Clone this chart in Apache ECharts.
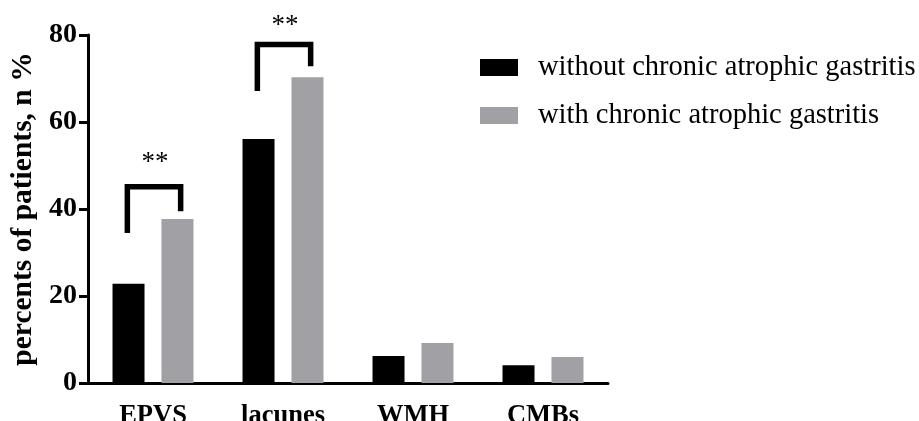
<!DOCTYPE html>
<html><head><meta charset="utf-8">
<script src="https://cdn.jsdelivr.net/npm/echarts@6/dist/echarts.min.js"></script>
<style>html,body{margin:0;padding:0;background:#fff}#c{width:919px;height:421px}</style>
</head><body><div id="c"></div>
<script>
const categories = ['EPVS', 'lacunes', 'WMH', 'CMBs'];
const withoutCAG = [22.8, 56.1, 6.2, 4.1];
const withCAG = [37.7, 70.3, 9.2, 6.0];
const yTicks = [0, 20, 40, 60, 80];
// significance brackets: category index, left leg bottom, bracket top, right leg bottom, label level, label
const bracketCats = [0, 1];
const bracketLeft = [34.5, 67.1];
const bracketTop = [45.1, 77.8];
const bracketRight = [39.5, 72.8];
const labelLevel = [51.8, 83.2];
const bracketLabels = ['**', '**'];

const serif = "Liberation Serif";
const chart = echarts.init(document.getElementById('c'));
const bracketData = bracketCats.map((c, i) => [c, bracketLeft[i], bracketTop[i], bracketRight[i], labelLevel[i]]);
chart.setOption({
  animation: false,
  grid: { left: 88, right: 311, top: 35, bottom: 38, outerBoundsMode: 'none', containLabel: false },
  legend: {
    orient: 'vertical', left: 480, top: 53, padding: 0, itemWidth: 38, itemHeight: 17, itemGap: 19,
    icon: 'rect',
    textStyle: { fontFamily: serif, fontSize: 28.5, color: '#000', padding: [0, 0, 0, 15] },
    data: ['without chronic atrophic gastritis', 'with chronic atrophic gastritis']
  },
  xAxis: {
    type: 'category', data: categories,
    axisLine: { lineStyle: { color: '#000', width: 3 } },
    axisTick: { alignWithLabel: true, length: 8, lineStyle: { color: '#000', width: 3 } },
    axisLabel: { fontFamily: serif, fontWeight: 'bold', fontSize: 26.5, color: '#000', margin: 20 }
  },
  yAxis: {
    type: 'value', min: 0, max: 80, interval: 20,
    name: 'percents of patients, n %', nameLocation: 'middle', nameGap: 46,
    nameTextStyle: { fontFamily: serif, fontWeight: 'bold', fontSize: 29.5, color: '#000' },
    axisLine: { show: true, lineStyle: { color: '#000', width: 3 } },
    axisTick: { show: true, length: 9, lineStyle: { color: '#000', width: 3 } },
    splitLine: { show: false },
    axisLabel: { fontFamily: serif, fontWeight: 'bold', fontSize: 28, color: '#000', margin: 11,
      formatter: v => yTicks.includes(v) ? String(v) : '' }
  },
  series: [
    { name: 'without chronic atrophic gastritis', type: 'bar', data: withoutCAG, barWidth: 32, barGap: '53%',
      itemStyle: { color: '#000' } },
    { name: 'with chronic atrophic gastritis', type: 'bar', data: withCAG, barWidth: 32,
      itemStyle: { color: '#a0a0a5' } },
    { type: 'custom', data: bracketData, clip: false, z: 5,
      renderItem: (params, api) => {
        const c = api.value(0);
        const band = api.size([1, 0])[0];
        const center = api.coord([c, 0])[0] + 1;
        const half = band * 0.205;
        const xl = center - half, xr = center + half;
        const yl = api.coord([c, api.value(1)])[1];
        const yt = api.coord([c, api.value(2)])[1];
        const yr = api.coord([c, api.value(3)])[1];
        const yLab = api.coord([c, api.value(4)])[1];
        return { type: 'group', children: [
          { type: 'polyline', shape: { points: [[xl, yl], [xl, yt], [xr, yt], [xr, yr]] },
            style: { stroke: '#000', lineWidth: 5.5, fill: null } },
          { type: 'text', style: { text: bracketLabels[params.dataIndex], x: center + 1, y: yLab + 5,
            align: 'center', verticalAlign: 'middle', fontFamily: serif, fontSize: 27, fill: '#000' } }
        ] };
      }
    }
  ]
});
</script></body></html>
